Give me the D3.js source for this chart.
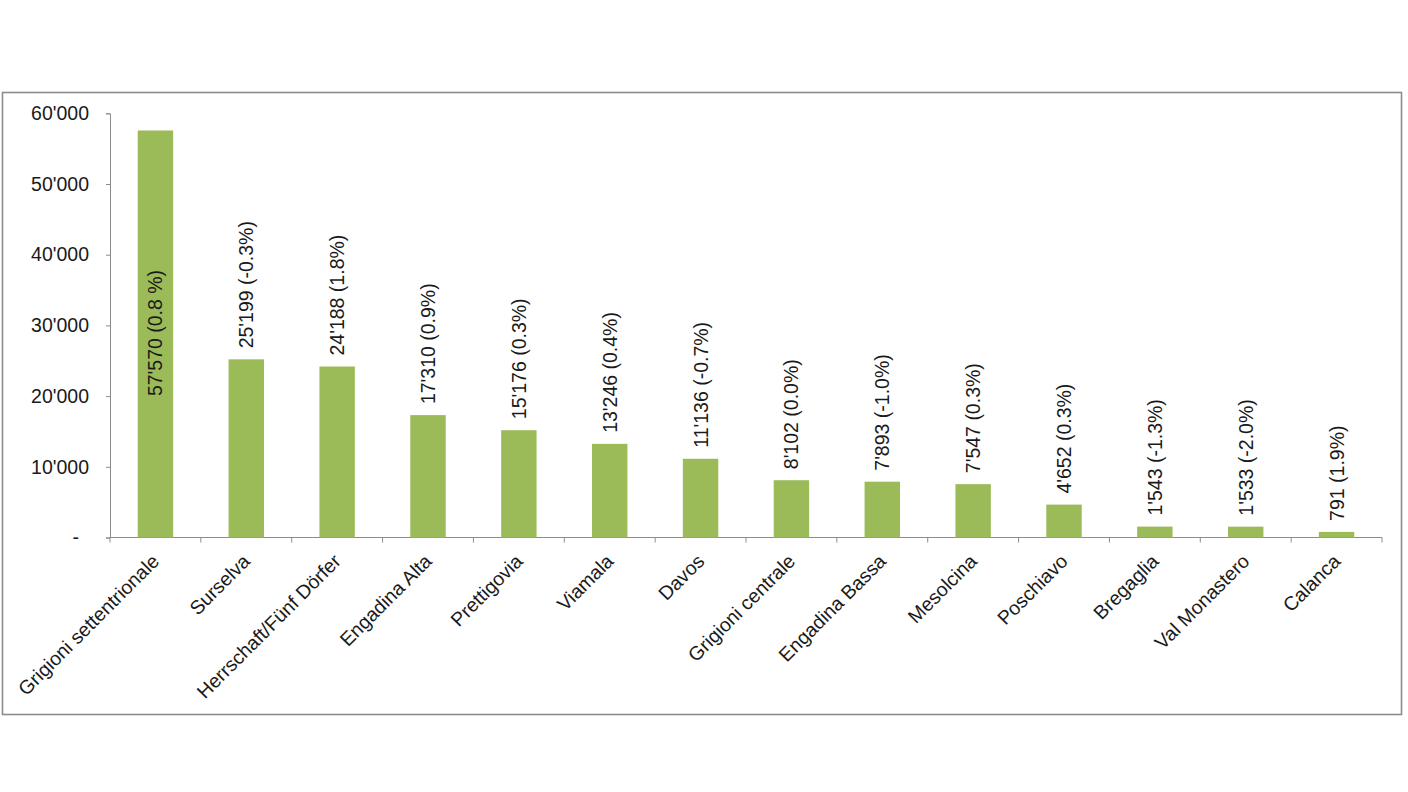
<!DOCTYPE html>
<html>
<head>
<meta charset="utf-8">
<script src="https://cdn.jsdelivr.net/npm/d3@7"></script>
<style>
  html, body { margin: 0; padding: 0; background: #ffffff; }
  svg { display: block; }
  text { font-family: "Liberation Sans", Arial, sans-serif; fill: #1a1a1a; }
</style>
</head>
<body>
<svg id="chart" width="1408" height="792"></svg>
<script>
const categories = ["Grigioni settentrionale", "Surselva", "Herrschaft/Fünf Dörfer", "Engadina Alta",
  "Prettigovia", "Viamala", "Davos", "Grigioni centrale", "Engadina Bassa", "Mesolcina",
  "Poschiavo", "Bregaglia", "Val Monastero", "Calanca"];
const values = [57570, 25199, 24188, 17310, 15176, 13246, 11136, 8102, 7893, 7547, 4652, 1543, 1533, 791];
const changes = ["0.8 %", "-0.3%", "1.8%", "0.9%", "0.3%", "0.4%", "-0.7%", "0.0%", "-1.0%", "0.3%", "0.3%", "-1.3%", "-2.0%", "1.9%"];
const yTicks = [0, 10000, 20000, 30000, 40000, 50000, 60000];

const svg = d3.select("#chart");
const plot = { left: 110, right: 1382, top: 113.3, bottom: 537.5 };
const FS = 19.5;

// frame
svg.append("rect").attr("x", 2.5).attr("y", 92.5).attr("width", 1399).attr("height", 622)
  .attr("fill", "none").attr("stroke", "#8c8c8c").attr("stroke-width", 1.6);

const x = d3.scaleBand().domain(categories).range([plot.left, plot.right]).padding(0);
const y = d3.scaleLinear().domain([0, 60000]).range([plot.bottom, plot.top]);
const barW = x.bandwidth() * 0.39;

const fmt = v => v === 0 ? "-" : d3.format(",")(v).replace(/,/g, "'");

// y axis
const yAxis = svg.append("g").attr("transform", `translate(${plot.left},0)`)
  .call(d3.axisLeft(y).tickValues(yTicks).tickSize(4).tickPadding(17).tickFormat(fmt));
yAxis.select(".domain").attr("stroke", "#8c8c8c");
yAxis.selectAll(".tick line").attr("stroke", "#8c8c8c");
yAxis.selectAll(".tick text").attr("font-size", FS).attr("fill", "#1a1a1a")
  .attr("font-family", '"Liberation Sans", Arial, sans-serif')
  .attr("dx", d => d === 0 ? -10 : 0);

// x axis line and boundary ticks
svg.append("line").attr("x1", plot.left).attr("x2", plot.right)
  .attr("y1", plot.bottom).attr("y2", plot.bottom).attr("stroke", "#8c8c8c");
const bounds = categories.map(c => x(c)).concat([x(categories[categories.length - 1]) + x.bandwidth()]);
svg.selectAll(".xt").data(bounds).enter().append("line")
  .attr("x1", d => d).attr("x2", d => d)
  .attr("y1", plot.bottom).attr("y2", plot.bottom + 5).attr("stroke", "#8c8c8c");

// bars
svg.selectAll(".bar").data(categories).enter().append("rect")
  .attr("x", (c) => x(c) + (x.bandwidth() - barW) / 2)
  .attr("y", (c, i) => y(values[i]))
  .attr("width", barW)
  .attr("height", (c, i) => y(0) - y(values[i]))
  .attr("fill", "#9bbb59");

// value labels
svg.selectAll(".vl").data(categories).enter().append("text")
  .attr("transform", (c, i) => {
    const cx = x(c) + x.bandwidth() / 2;
    if (i === 0) {
      const cy = (y(values[i]) + y(0)) / 2 - 1;
      return `translate(${cx},${cy}) rotate(-90)`;
    }
    return `translate(${cx},${y(values[i]) - 11}) rotate(-90)`;
  })
  .attr("text-anchor", (c, i) => i === 0 ? "middle" : "start")
  .attr("dominant-baseline", "central")
  .attr("font-size", FS)
  .text((c, i) => `${fmt(values[i])} (${changes[i]})`);

// category labels
svg.selectAll(".cl").data(categories).enter().append("text")
  .attr("transform", c => `translate(${x(c) + x.bandwidth() / 2 + 5},${plot.bottom + 25}) rotate(-45)`)
  .attr("text-anchor", "end")
  .attr("font-size", FS)
  .text(c => c);
</script>
</body>
</html>
